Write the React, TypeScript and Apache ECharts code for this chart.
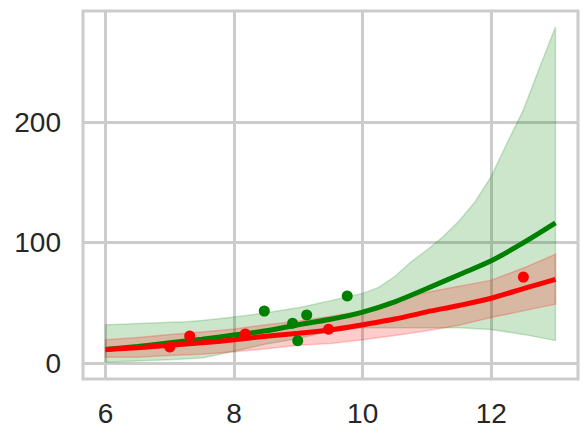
import React, { useEffect, useRef } from "react";
import * as echarts from "echarts";

const xs = [6, 6.5, 7, 7.5, 8, 8.5, 9, 9.5, 10, 10.5, 11, 11.5, 12, 12.5, 13];
const xsFine = [
  6, 6.25, 6.5, 6.75, 7, 7.25, 7.5, 7.75, 8, 8.25, 8.5, 8.75, 9, 9.25, 9.5, 9.75,
  10, 10.25, 10.5, 10.75, 11, 11.25, 11.5, 11.75, 12, 12.25, 12.5, 12.75, 13,
];

const greenUpper = [
  32, 32.5, 33, 33.5, 34, 34.5, 35.5, 37, 38.5, 40, 42, 44, 46, 49, 52, 55,
  58, 63, 72, 84, 94, 105, 118, 134, 155, 183, 210, 245, 279,
];
const greenLower = [1, 2, 3, 4.5, 10, 16, 20.5, 27, 29.5, 29.5, 29.5, 29.5, 28, 24, 19];
const greenMean = [11.5, 14, 17, 20, 23.5, 27, 32, 36.5, 42.5, 51, 62, 73.5, 85, 100, 116.5];

const redUpper = [19.5, 21.5, 24, 26, 28.5, 32, 35, 39, 43.5, 52, 59, 64, 69, 79, 90.5];
const redLower = [5, 5, 6.5, 7.5, 9.5, 12, 15, 16.5, 19.5, 23, 27, 31.5, 38, 43.5, 49];
const redMean = [11.5, 13, 15, 17, 19.5, 22.5, 25, 27.7, 32, 36.7, 42.7, 48, 54, 62, 69.6];

const greenPointsX = [8.47, 8.91, 8.99, 9.13, 9.76];
const greenPointsY = [43.3, 33.2, 18.7, 40.0, 55.8];
const redPointsX = [7.0, 7.31, 8.175, 9.47, 12.5];
const redPointsY = [13.5, 22.6, 24.3, 28.2, 71.5];

const xTicks = [6, 8, 10, 12];
const yTicks = [0, 100, 200];

const GREEN = "#008000";
const RED = "#ff0000";
const GREEN_A = "rgba(0,128,0,0.2)";
const RED_A = "rgba(255,0,0,0.2)";
const GRID = "#cccccc";
const TEXT = "#262626";

function pairs(x: number[], y: number[]) {
  return x.map((v, i) => [v, y[i]]);
}

function band(
  xLo: number[],
  lower: number[],
  xHi: number[],
  upper: number[],
  color: string,
  z: number
) {
  return {
    type: "custom",
    silent: true,
    z,
    data: xHi.map((x, i) => [x, upper[i]]).concat(xLo.map((x, i) => [x, lower[i]])),
    encode: { x: 0, y: 1 },
    renderItem: (params: any, api: any) => {
      if (params.dataIndex !== 0) return null;
      const top = xHi.map((x, i) => api.coord([x, upper[i]]));
      const bottom = xLo.map((x, i) => api.coord([x, lower[i]])).reverse();
      return {
        type: "polygon",
        shape: { points: top.concat(bottom) },
        style: { fill: color, stroke: color, lineWidth: 1.5 },
      };
    },
  };
}

export default function App() {
  const ref = useRef<HTMLDivElement>(null);
  useEffect(() => {
    if (!ref.current) return;
    const chart = echarts.init(ref.current, undefined, { renderer: "svg" });
    const axisLabelStyle = {
      color: TEXT,
      fontSize: 28,
      fontFamily: "Liberation Sans, Arial, sans-serif",
    };
    chart.setOption({
      animation: false,
      backgroundColor: "#ffffff",
      grid: {
        left: 83,
        top: 11,
        width: 495,
        height: 368,
        show: true,
        borderColor: GRID,
        borderWidth: 3,
        backgroundColor: "transparent",
      },
      xAxis: {
        type: "value",
        min: 5.65,
        max: 13.35,
        axisLine: { show: false },
        axisTick: { show: false, customValues: xTicks },
        axisLabel: { ...axisLabelStyle, margin: 20, customValues: xTicks },
        splitLine: { show: true, lineStyle: { color: GRID, width: 3 } },
      },
      yAxis: {
        type: "value",
        min: -13,
        max: 292.2,
        axisLine: { show: false },
        axisTick: { show: false, customValues: yTicks },
        axisLabel: { ...axisLabelStyle, margin: 22, customValues: yTicks },
        splitLine: { show: true, lineStyle: { color: GRID, width: 3 } },
      },
      series: [
        band(xs, greenLower, xsFine, greenUpper, GREEN_A, 2),
        band(xs, redLower, xs, redUpper, RED_A, 3),
        {
          type: "line",
          data: pairs(xs, greenMean),
          symbol: "none",
          smooth: 0.3,
          lineStyle: { color: GREEN, width: 5 },
          z: 4,
        },
        {
          type: "line",
          data: pairs(xs, redMean),
          symbol: "none",
          smooth: 0.3,
          lineStyle: { color: RED, width: 5 },
          z: 5,
        },
        {
          type: "scatter",
          data: pairs(greenPointsX, greenPointsY),
          symbolSize: 11,
          itemStyle: { color: GREEN, opacity: 1 },
          z: 6,
        },
        {
          type: "scatter",
          data: pairs(redPointsX, redPointsY),
          symbolSize: 11,
          itemStyle: { color: RED, opacity: 1 },
          z: 7,
        },
      ],
    });
    return () => chart.dispose();
  }, []);
  return (
    <div
      ref={ref}
      style={{ position: "fixed", left: 0, top: 0, width: 588, height: 440 }}
    />
  );
}
